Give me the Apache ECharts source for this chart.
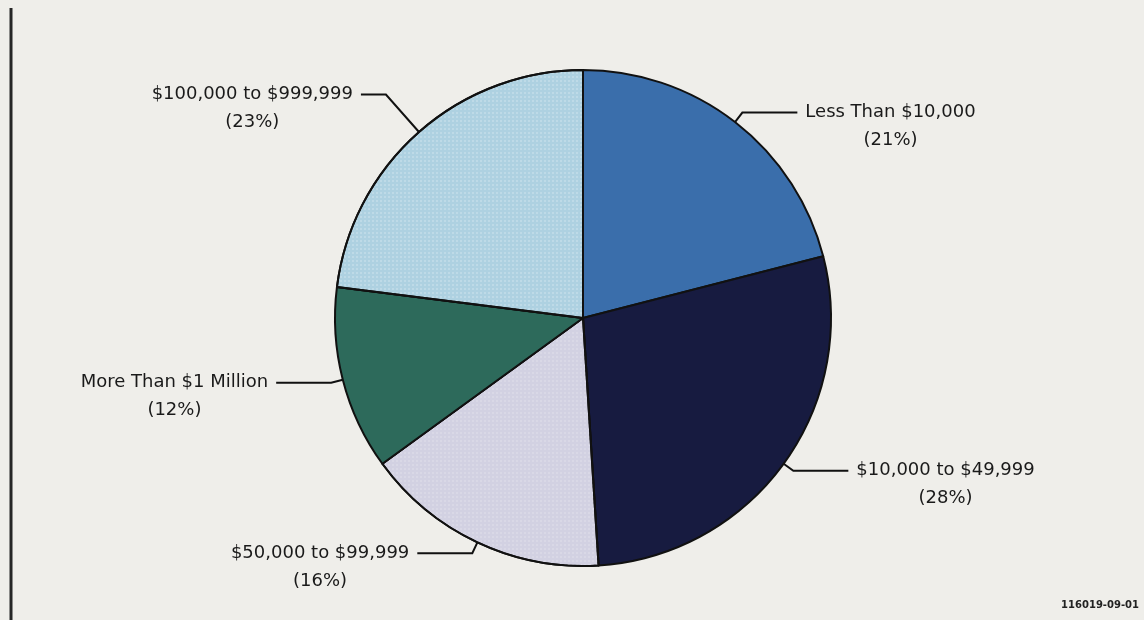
<!DOCTYPE html>
<html>
<head>
<meta charset="utf-8">
<title>Distribution by Size</title>
<script src="https://cdn.jsdelivr.net/npm/echarts@6/dist/echarts.min.js"></script>
<style>
  html, body { margin: 0; padding: 0; background: #efeeea; }
  #chart { width: 1144px; height: 620px; }
</style>
</head>
<body>
<div id="chart"></div>
<script>
// Slice categories, clockwise from 12 o'clock
const categories = [
  'Less Than $10,000',
  '$10,000 to $49,999',
  '$50,000 to $99,999',
  'More Than $1 Million',
  '$100,000 to $999,999'
];
// Share of each category, percent
const shares = [21, 28, 16, 12, 23];
// Fill colours per slice
const fills = ['#3a6eab', '#171b40', '#d2d1e2', '#2d6a5b', '#aed1e1'];
const footnote = '116019-09-01';

// stippled fills for the two light slices
const dotted = {
  2: { symbol: 'circle', symbolSize: 0.7, dashArrayX: [2, 2], dashArrayY: [2, 2], color: 'rgba(255,255,255,0.45)' },
  4: { symbol: 'circle', symbolSize: 0.7, dashArrayX: [2, 2], dashArrayY: [2, 2], color: 'rgba(255,255,255,0.55)' }
};
// longer radial leader for the upper-left label
const leaderTweaks = {
  4: { length: 50, length2: 25 }
};

const pieData = categories.map((name, i) => {
  const item = { name: name, value: shares[i], itemStyle: { color: fills[i] } };
  if (dotted[i]) item.itemStyle.decal = dotted[i];
  if (leaderTweaks[i]) item.labelLine = leaderTweaks[i];
  return item;
});

const chart = echarts.init(document.getElementById('chart'), null, { renderer: 'canvas' });

chart.setOption({
  backgroundColor: '#efeeea',
  animation: false,
  graphic: [
    {
      type: 'line',
      shape: { x1: 11, y1: 8, x2: 11, y2: 620 },
      style: { stroke: '#262626', lineWidth: 3 }
    },
    {
      type: 'text',
      right: 5,
      bottom: 10,
      style: {
        text: footnote,
        fontFamily: 'DejaVu Sans',
        fontSize: 10,
        fontWeight: 'bold',
        fill: '#222'
      }
    }
  ],
  series: [{
    type: 'pie',
    center: [583, 318],
    radius: 248,
    startAngle: 90,
    clockwise: true,
    avoidLabelOverlap: false,
    data: pieData,
    itemStyle: { borderColor: '#111', borderWidth: 2 },
    emphasis: { disabled: true },
    label: {
      show: true,
      formatter: '{n|{b}}\n{n|({c}%)}',
      color: '#1a1a1a',
      rich: {
        n: {
          align: 'center',
          fontFamily: 'DejaVu Sans',
          fontSize: 18,
          lineHeight: 28,
          color: '#1a1a1a'
        }
      }
    },
    labelLine: {
      show: true,
      length: 12,
      length2: 55,
      lineStyle: { color: '#111', width: 2 }
    },
    labelLayout: function (p) {
      // keep the first text line level with the leader's horizontal run
      const pts = p.labelLinePoints;
      if (!pts) return {};
      const end = pts[pts.length - 1];
      const right = end[0] > pts[0][0];
      const w = p.labelRect.width;
      return {
        x: right ? end[0] + 8 + w / 2 : end[0] - 8 - w / 2,
        y: end[1] - 14,
        align: 'center',
        verticalAlign: 'top',
        labelLinePoints: pts
      };
    }
  }]
});
</script>
</body>
</html>
